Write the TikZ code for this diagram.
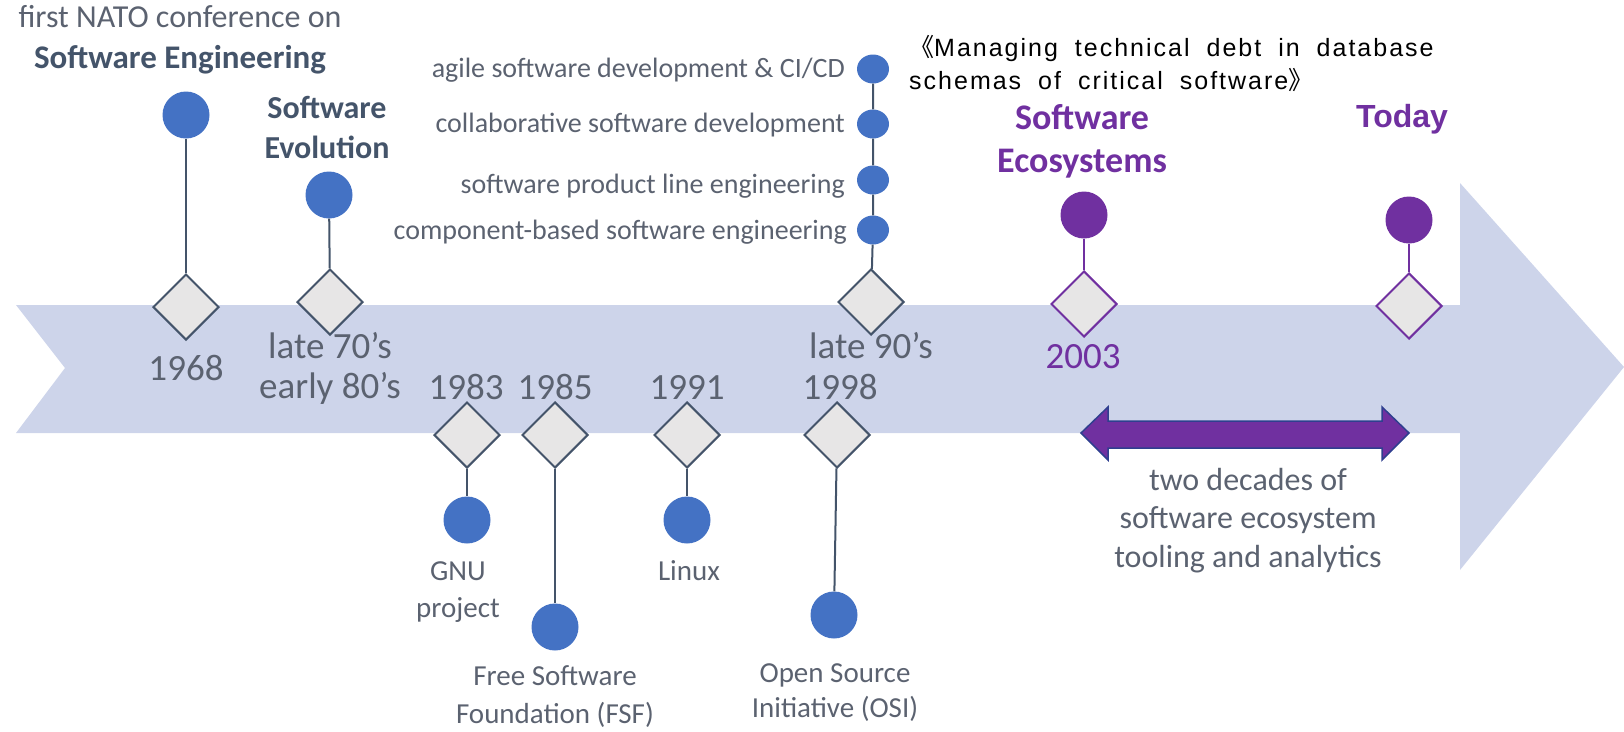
\documentclass[tikz,border=0pt]{standalone}
\usepackage{fontspec}
\setmainfont{Carlito}
\newfontfamily\notefont[LetterSpace=8,WordSpace=1.9]{Liberation Sans}
\newfontfamily\headfont{Liberation Sans}
\newfontfamily\cjkfont{Noto Sans CJK SC}
\usetikzlibrary{shapes.geometric}

\definecolor{bandcol}{HTML}{CDD4EA}
\definecolor{slate}{HTML}{44546A}
\definecolor{txtgray}{HTML}{5B6270}
\definecolor{dotblue}{HTML}{4472C4}
\definecolor{purp}{HTML}{7030A0}
\definecolor{diafill}{HTML}{E7E6E6}
\definecolor{arrowedge}{HTML}{2F3F8F}

% lines stacked at exactly \baselineskip, baseline = first line
\newcommand{\linestack}[1]{\vtop{\lineskiplimit=-\maxdimen\halign{\hfil##\hfil\cr#1\crcr}}}
\newcommand{\leftstack}[1]{\vtop{\lineskiplimit=-\maxdimen\halign{##\hfil\cr#1\crcr}}}

\tikzset{
  milestone/.style={diamond, draw=slate, fill=diafill, line width=2pt,
    minimum width=66pt, minimum height=66pt, inner sep=0pt},
  pmilestone/.style={milestone, draw=purp},
  dot/.style={circle, fill=dotblue, minimum size=47pt, inner sep=0pt},
  pdot/.style={dot, fill=purp},
  smalldot/.style={ellipse, fill=dotblue, minimum width=32pt, minimum height=29pt, inner sep=0pt},
  link/.style={draw=slate, line width=2pt},
  plink/.style={draw=purp, line width=2pt},
  lbl/.style={anchor=base, inner sep=0pt, text=txtgray},
  yearlbl/.style={lbl, font=\fontsize{37}{40}\selectfont},
  eventlbl/.style={lbl, font=\fontsize{29}{37}\selectfont},
  techlbl/.style={lbl, anchor=base east, font=\fontsize{28}{34}\selectfont},
  headlbl/.style={lbl, text=slate, font=\bfseries\fontsize{32}{40}\selectfont},
}

\begin{document}
\begin{tikzpicture}[x=1pt, y=-1pt]
\useasboundingbox (0,0) rectangle (1624,731);

% timeline band with notched tail and arrow head
\fill[bandcol] (16,305) -- (1460,305) -- (1460,183) -- (1624,367)
  -- (1460,570) -- (1460,433) -- (16,433) -- (65,368) -- cycle;

% milestones on the band
\node[milestone]  (d1968) at (186,307) {};
\node[milestone]  (d70s)  at (330,302) {};
\node[milestone]  (d90s)  at (871,302) {};
\node[pmilestone] (d2003) at (1084,304) {};
\node[pmilestone] (dnow)  at (1409,306) {};
\node[milestone]  (d1983) at (467,435) {};
\node[milestone]  (d1985) at (555,435) {};
\node[milestone]  (d1991) at (687,435) {};
\node[milestone]  (d1998) at (837,435) {};

% event dots
\node[dot]  (c1968) at (186,115) {};
\node[dot]  (c70s)  at (329,195) {};
\node[pdot] (c2003) at (1084,215) {};
\node[pdot] (cnow)  at (1409,220) {};
\node[dot]  (c1983) at (467,520) {};
\node[dot]  (c1985) at (555,627) {};
\node[dot]  (c1991) at (687,520) {};
\node[dot]  (c1998) at (834,615) {};
\node[smalldot] (s1) at (873,69) {};
\node[smalldot] (s2) at (873,124) {};
\node[smalldot] (s3) at (873,180) {};
\node[smalldot] (s4) at (873,230) {};

% stems
\draw[link] (c1968) -- (d1968);
\draw[link] (c70s) -- (d70s);
\draw[link] (d90s) -- (s4) (s4) -- (s3) (s3) -- (s2) (s2) -- (s1);
\draw[plink] (c2003) -- (d2003);
\draw[plink] (cnow) -- (dnow);
\draw[link] (d1983) -- (c1983);
\draw[link] (d1985) -- (c1985);
\draw[link] (d1991) -- (c1991);
\draw[link] (d1998) -- (c1998);

% two-decade span
\filldraw[fill=purp, draw=arrowedge, line width=1.5pt, line join=miter]
  (1081,433) -- (1108,407) -- (1108,421) -- (1382,421) -- (1382,407)
  -- (1409,433) -- (1382,460) -- (1382,448) -- (1108,448) -- (1108,460) -- cycle;

% dates
\node[yearlbl] (y1968) at (186,380) {1968};
\node[yearlbl] (y70s)  at (330,358) {\linestack{late 70’s\cr early 80’s}};
\node[yearlbl] (y1983) at (466,399) {1983};
\node[yearlbl] (y1985) at (555,399) {1985};
\node[yearlbl] (y1991) at (687,399) {1991};
\node[yearlbl] (y1998) at (840,399) {1998};
\node[yearlbl] (y90s)  at (871,358) {late 90’s};
\node[yearlbl, text=purp] (y2003) at (1083,368) {2003};

% event captions
\node[lbl, font=\fontsize{32}{40}\selectfont] (nato1) at (180,27) {first NATO conference on};
\node[headlbl, font=\bfseries\fontsize{33}{40}\selectfont] (nato2) at (180,68) {Software Engineering};
\node[headlbl] (evo) at (327,118) {\linestack{Software\cr Evolution}};
\node[headlbl, text=purp, font=\bfseries\fontsize{36}{43}\selectfont] (eco) at (1082,129)
  {\linestack{Software\cr Ecosystems}};
\node[lbl, text=purp, font=\headfont\bfseries\fontsize{32}{40}\selectfont] (today) at (1402,127) {Today};

\node[techlbl] (t1) at (845,77)  {agile software development \& CI/CD};
\node[techlbl] (t2) at (845,132) {collaborative software development};
\node[techlbl] (t3) at (845,193) {software product line engineering};
\node[techlbl] (t4) at (847,239) {component-based software engineering};

\node[eventlbl] (gnu)   at (458,580) {\linestack{GNU\cr project}};
\node[eventlbl] (linux) at (689,580) {Linux};
\node[eventlbl, font=\fontsize{29}{38}\selectfont] (fsf) at (555,685)
  {\linestack{Free Software\cr Foundation (FSF)}};
\node[eventlbl, font=\fontsize{29}{35}\selectfont] (osi) at (835,682)
  {\linestack{Open Source\cr Initiative (OSI)}};

\node[lbl, font=\fontsize{32}{38.5}\selectfont] (span) at (1248,490)
  {\linestack{two decades of\cr software ecosystem\cr tooling and analytics}};

% title note
\node[anchor=base west, inner sep=0pt, text=black, font=\notefont\fontsize{25}{33}\selectfont]
  (note) at (909,56)
  {\leftstack{{\cjkfont 《}Managing technical debt in database\cr schemas of critical software{\cjkfont 》}}};
\end{tikzpicture}
\end{document}
